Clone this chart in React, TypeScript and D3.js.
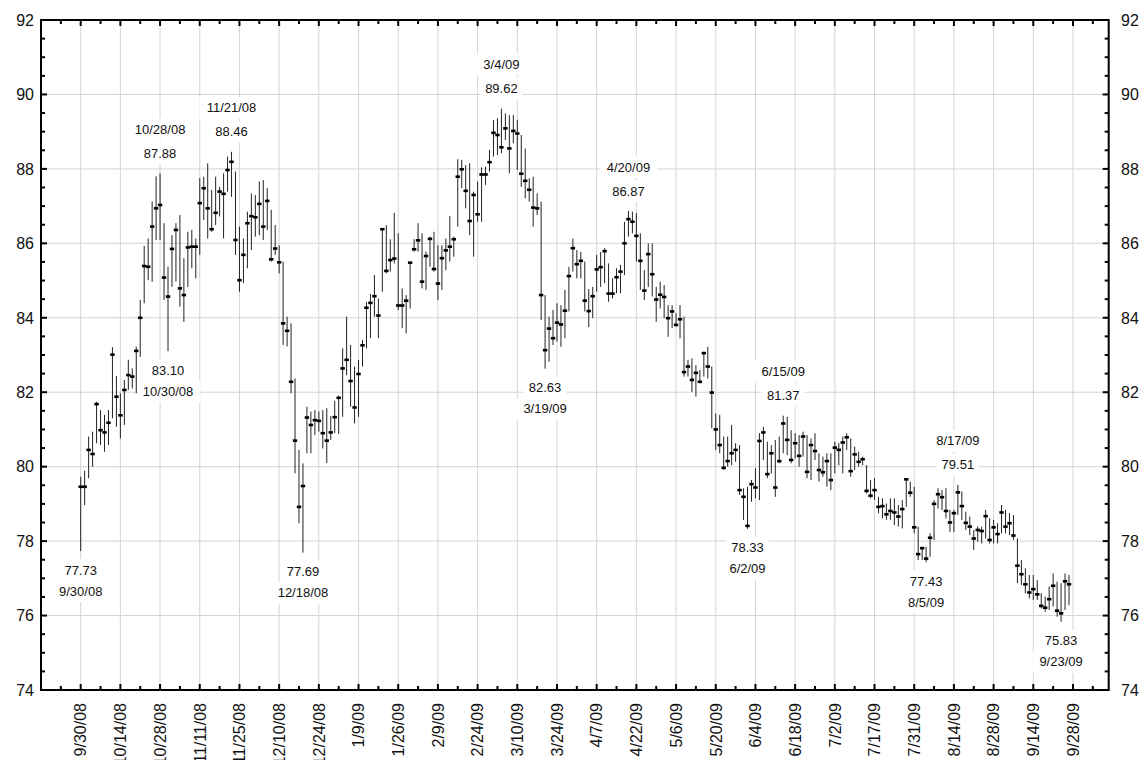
import * as d3 from 'd3'

// trading-day labels every 10 sessions, starting 9/30/08
const dateLabels = [
  '9/30/08', '10/14/08', '10/28/08', '11/11/08', '11/25/08', '12/10/08', '12/24/08',
  '1/9/09', '1/26/09', '2/9/09', '2/24/09', '3/10/09', '3/24/09', '4/7/09', '4/22/09',
  '5/6/09', '5/20/09', '6/4/09', '6/18/09', '7/2/09', '7/17/09', '7/31/09', '8/14/09',
  '8/28/09', '9/14/09', '9/28/09',
]

const highs = [
  79.73, 79.89, 80.81, 80.94, 81.74, 81.52, 81.39, 81.52, 83.21, 82.44,
  81.97, 82.33, 82.87, 82.64, 83.22, 84.48, 85.93, 86.13, 87.12, 87.80,
  87.88, 86.54, 85.37, 86.22, 86.54, 86.76, 85.60, 86.31, 86.36, 86.13,
  87.75, 87.79, 88.15, 87.43, 87.79, 87.52, 87.88, 88.33, 88.46, 87.93,
  86.45, 86.13, 86.85, 87.34, 87.30, 87.66, 87.70, 87.48, 86.90, 86.49,
  85.95, 85.51, 84.03, 83.85, 82.37, 80.45, 80.09, 81.61, 81.48, 81.52,
  81.48, 81.52, 81.57, 81.36, 81.77, 81.91, 83.18, 84.03, 83.27, 82.69,
  82.87, 83.40, 84.43, 84.64, 85.15, 84.52, 86.40, 86.49, 86.11, 86.82,
  86.27, 84.79, 84.61, 85.51, 86.11, 86.54, 86.27, 85.78, 86.18, 86.31,
  85.95, 85.95, 86.13, 86.73, 86.18, 88.26, 88.24, 88.10, 88.15, 87.39,
  87.66, 88.04, 88.06, 88.51, 89.31, 89.36, 89.62, 89.49, 89.45, 89.45,
  89.31, 88.91, 88.55, 87.75, 87.79, 87.34, 87.12, 84.61, 84.03, 84.21,
  84.39, 84.34, 84.75, 85.37, 86.13, 85.82, 85.77, 85.51, 84.77, 84.83,
  85.69, 85.77, 85.87, 85.46, 85.06, 85.33, 85.42, 86.58, 86.87, 86.85,
  86.81, 86.27, 85.28, 86.00, 86.00, 84.83, 84.97, 84.88, 84.34, 84.34,
  84.12, 84.34, 84.03, 82.87, 82.91, 82.73, 82.60, 83.09, 83.22, 82.69,
  81.43, 81.39, 80.81, 80.81, 81.12, 80.63, 80.58, 79.42, 79.46, 79.64,
  79.96, 80.90, 81.07, 80.67, 80.58, 80.72, 80.81, 81.37, 81.34, 80.98,
  80.90, 80.85, 80.94, 80.85, 80.76, 80.90, 80.36, 80.27, 80.36, 80.36,
  80.67, 80.63, 80.81, 80.90, 80.76, 80.54, 80.40, 80.27, 80.04, 79.64,
  79.69, 79.19, 79.15, 79.01, 79.15, 79.15, 78.97, 79.10, 79.69, 79.60,
  79.46, 78.39, 77.85, 77.85, 78.21, 79.10, 79.42, 79.37, 79.42, 78.84,
  78.84, 79.51, 79.33, 78.79, 78.66, 78.30, 78.39, 78.39, 78.84, 78.61,
  78.57, 78.48, 78.97, 78.84, 78.75, 78.70, 78.07, 77.49, 77.27, 77.09,
  77.09, 76.95, 76.60, 76.51, 76.78, 77.13, 76.91, 76.87, 77.13, 77.09,
]

const lows = [
  77.73, 78.97, 79.69, 80.00, 80.63, 80.58, 80.40, 80.58, 81.30, 81.07,
  80.76, 81.12, 82.06, 82.10, 81.97, 82.95, 84.39, 85.01, 84.97, 86.09,
  86.09, 84.48, 83.10, 84.83, 84.97, 84.30, 83.89, 84.83, 85.33, 85.06,
  85.69, 86.63, 86.13, 86.31, 86.49, 86.72, 86.13, 87.39, 87.25, 85.69,
  84.70, 84.93, 85.33, 85.82, 86.18, 86.22, 86.09, 86.36, 85.51, 85.69,
  85.19, 83.27, 83.23, 81.97, 79.82, 78.48, 77.69, 80.36, 80.36, 80.85,
  80.94, 80.49, 80.10, 80.72, 80.90, 80.88, 81.34, 82.46, 81.61, 81.16,
  81.34, 82.69, 83.18, 83.45, 84.03, 83.45, 84.70, 85.19, 85.24, 85.46,
  84.21, 83.72, 83.58, 84.25, 85.78, 85.78, 84.79, 84.75, 85.37, 85.24,
  84.48, 84.75, 85.28, 85.51, 85.64, 86.45, 87.48, 86.94, 86.22, 85.64,
  86.58, 86.58, 87.57, 87.93, 88.33, 88.37, 88.42, 88.78, 87.88, 88.69,
  87.97, 87.52, 87.21, 87.12, 86.45, 86.76, 83.94, 82.63, 82.82, 83.27,
  83.36, 83.22, 83.45, 84.17, 85.24, 85.06, 85.06, 84.17, 83.75, 83.99,
  84.70, 84.83, 84.93, 84.43, 84.52, 84.66, 84.66, 85.15, 86.18, 86.27,
  85.51, 84.75, 84.48, 84.83, 84.57, 83.89, 84.25, 83.99, 83.49, 83.72,
  83.76, 83.45, 82.42, 82.42, 82.01, 81.88, 82.24, 82.42, 82.37, 81.03,
  80.45, 80.36, 79.91, 80.00, 80.04, 80.13, 79.24, 78.57, 78.33, 79.06,
  79.15, 79.10, 80.18, 79.69, 79.82, 79.19, 80.09, 80.36, 80.31, 80.09,
  80.22, 80.00, 80.27, 79.69, 79.64, 80.18, 79.60, 79.73, 79.46, 79.37,
  79.82, 80.04, 79.82, 80.45, 79.73, 79.91, 80.00, 80.04, 79.28, 79.15,
  79.10, 78.75, 78.61, 78.57, 78.57, 78.43, 78.39, 78.34, 78.92, 79.19,
  78.21, 77.49, 77.49, 77.43, 77.58, 78.03, 78.88, 78.84, 78.61, 78.25,
  78.25, 78.70, 78.57, 78.30, 78.16, 77.76, 77.98, 77.94, 78.07, 77.94,
  77.94, 77.94, 78.21, 78.21, 78.16, 78.03, 76.87, 76.82, 76.60, 76.46,
  76.42, 76.42, 76.19, 76.10, 76.15, 76.24, 75.97, 75.83, 76.15, 76.28,
]

const closes = [
  79.46, 79.46, 80.45, 80.34, 81.68, 80.98, 80.92, 81.18, 83.01, 81.88,
  81.38, 82.06, 82.46, 82.42, 83.11, 84.00, 85.39, 85.37, 86.45, 86.94,
  87.03, 85.08, 84.57, 85.85, 86.36, 84.79, 84.61, 85.89, 85.91, 85.91,
  87.08, 87.48, 86.94, 86.38, 86.82, 87.39, 87.33, 87.97, 88.19, 86.09,
  85.01, 85.69, 86.54, 86.73, 86.70, 87.06, 86.45, 87.14, 85.57, 85.86,
  85.49, 83.85, 83.65, 82.28, 80.70, 78.92, 79.48, 81.32, 81.12, 81.25,
  81.23, 80.90, 80.70, 80.92, 81.33, 81.85, 82.64, 82.87, 82.30, 81.59,
  82.49, 83.26, 84.27, 84.40, 84.58, 84.06, 86.38, 85.26, 85.55, 85.59,
  84.33, 84.33, 84.46, 85.48, 85.84, 86.08, 84.97, 85.66, 86.12, 85.31,
  84.92, 85.60, 85.81, 85.91, 86.11, 87.79, 87.99, 87.41, 86.60, 87.30,
  86.78, 87.85, 87.85, 88.18, 88.97, 88.91, 88.58, 89.09, 88.55, 89.02,
  88.95, 87.87, 87.68, 87.44, 86.96, 86.94, 84.61, 83.13, 83.71, 83.45,
  83.87, 83.82, 84.19, 85.12, 85.87, 85.44, 85.53, 84.46, 84.18, 84.58,
  85.30, 85.36, 85.79, 84.65, 84.65, 85.09, 85.24, 86.00, 86.65, 86.58,
  86.20, 85.53, 84.73, 85.71, 85.17, 84.49, 84.62, 84.56, 83.99, 84.17,
  83.81, 83.96, 82.54, 82.69, 82.33, 82.52, 82.28, 83.05, 82.69, 81.99,
  81.00, 80.58, 79.97, 80.15, 80.36, 80.45, 79.37, 79.19, 78.41, 79.53,
  79.44, 80.69, 80.92, 79.80, 80.36, 79.44, 80.15, 81.16, 80.72, 80.18,
  80.63, 80.29, 80.81, 79.86, 80.58, 80.42, 79.91, 79.85, 80.15, 79.64,
  80.51, 80.45, 80.65, 80.79, 79.88, 80.33, 80.13, 80.20, 79.35, 79.22,
  79.37, 78.92, 78.94, 78.72, 78.81, 78.77, 78.66, 78.86, 79.66, 79.30,
  78.37, 77.65, 77.81, 77.53, 78.09, 79.00, 79.26, 79.18, 78.81, 78.50,
  78.75, 79.31, 78.94, 78.49, 78.39, 78.07, 78.30, 78.27, 78.67, 78.03,
  78.37, 78.19, 78.77, 78.39, 78.48, 78.15, 77.34, 77.11, 76.84, 76.62,
  76.71, 76.57, 76.26, 76.21, 76.44, 76.80, 76.13, 76.06, 76.92, 76.84,
]

// annotated extremes
const noteIndex = [0, 20, 22, 38, 56, 106, 117, 138, 168, 177, 213, 221, 247]
const noteDates = ['9/30/08', '10/28/08', '10/30/08', '11/21/08', '12/18/08', '3/4/09', '3/19/09', '4/20/09', '6/2/09', '6/15/09', '8/5/09', '8/17/09', '9/23/09']
const noteValues = [77.73, 87.88, 83.10, 88.46, 77.69, 89.62, 82.63, 86.87, 78.33, 81.37, 77.43, 79.51, 75.83]
const noteKinds = ['low', 'high', 'low', 'high', 'low', 'high', 'low', 'high', 'low', 'high', 'low', 'high', 'low']

const W = 1144
const H = 760
const font = 'Arial, "Liberation Sans", sans-serif'

export default function App() {
  const x = d3.scaleLinear().domain([-10, 259]).range([41, 1108.7])
  const y = d3.scaleLinear().domain([74, 92]).range([690, 20])
  const [x0, x1] = x.range()
  const [y0, y1] = y.range()

  const xTicks = d3.range(-5, 256, 5)
  const yTicks = d3.range(74, 92.001, 0.5)
  const yMajor = d3.range(74, 92.001, 2)
  const xMajor = dateLabels.map((_, k) => k * 10)

  const labelBox = (cx: number, cy: number, s: string) => {
    const w = s.length * 7.3 + 6
    return <rect x={cx - w / 2} y={cy - 11} width={w} height={22} fill="#fff" />
  }

  return (
    <svg width={W} height={H} style={{ position: 'absolute', left: 0, top: 0, background: '#fff' }} fontFamily={font}>
      <rect width={W} height={H} fill="#fff" />

      {/* grid */}
      {xMajor.map(i => (
        <line key={'gx' + i} x1={x(i)} x2={x(i)} y1={y1} y2={y0} stroke="#d4d4d4" strokeWidth={1} />
      ))}
      {yMajor.slice(1, -1).map(v => (
        <line key={'gy' + v} x1={x0} x2={x1} y1={y(v)} y2={y(v)} stroke="#d4d4d4" strokeWidth={1} />
      ))}

      {/* annotations */}
      {noteIndex.map((i, k) => {
        const cx = x(i)
        const py = y(noteValues[k])
        const high = noteKinds[k] === 'high'
        const vy = high ? py - 20 : py + 19
        const dy = high ? py - 44 : py + 40
        const vs = noteValues[k].toFixed(2)
        return (
          <g key={'n' + k} fontSize={13} textAnchor="middle" fill="#111">
            {labelBox(cx, vy, vs)}
            {labelBox(cx, dy, noteDates[k])}
            <text x={cx} y={vy} dy="0.35em">{vs}</text>
            <text x={cx} y={dy} dy="0.35em">{noteDates[k]}</text>
          </g>
        )
      })}

      {/* hi-lo bars with close marks */}
      {closes.map((c, i) => (
        <g key={'b' + i}>
          <line x1={x(i)} x2={x(i)} y1={y(highs[i])} y2={y(lows[i])} stroke="#222" strokeWidth={1} />
          <rect x={x(i) - 2.2} y={y(c) - 1.3} width={4.4} height={2.6} fill="#000" />
        </g>
      ))}

      {/* ticks */}
      {xTicks.map(i => {
        const len = i % 10 === 0 ? 6 : 4
        return (
          <g key={'tx' + i} stroke="#000" strokeWidth={2}>
            <line x1={x(i)} x2={x(i)} y1={y1} y2={y1 + len} />
            <line x1={x(i)} x2={x(i)} y1={y0} y2={y0 - len} />
          </g>
        )
      })}
      {yTicks.map(v => {
        const len = v % 2 === 0 ? 6 : 4
        return (
          <g key={'ty' + v} stroke="#000" strokeWidth={2}>
            <line x1={x0} x2={x0 + len} y1={y(v)} y2={y(v)} />
            <line x1={x1} x2={x1 - len} y1={y(v)} y2={y(v)} />
          </g>
        )
      })}

      {/* frame */}
      <rect x={x0} y={y1} width={x1 - x0} height={y0 - y1} fill="none" stroke="#000" strokeWidth={2} />

      {/* y labels both sides */}
      {yMajor.map(v => (
        <g key={'ly' + v} fontSize={16} fill="#111">
          <text x={34} y={y(v)} dy="0.36em" textAnchor="end">{v}</text>
          <text x={1121} y={y(v)} dy="0.36em" textAnchor="start">{v}</text>
        </g>
      ))}

      {/* x labels, rotated */}
      {dateLabels.map((s, k) => (
        <text
          key={'lx' + k}
          transform={`translate(${x(k * 10)},${703}) rotate(-90)`}
          dy="0.36em"
          textAnchor="end"
          fontSize={16}
          fill="#111"
        >
          {s}
        </text>
      ))}
    </svg>
  )
}
